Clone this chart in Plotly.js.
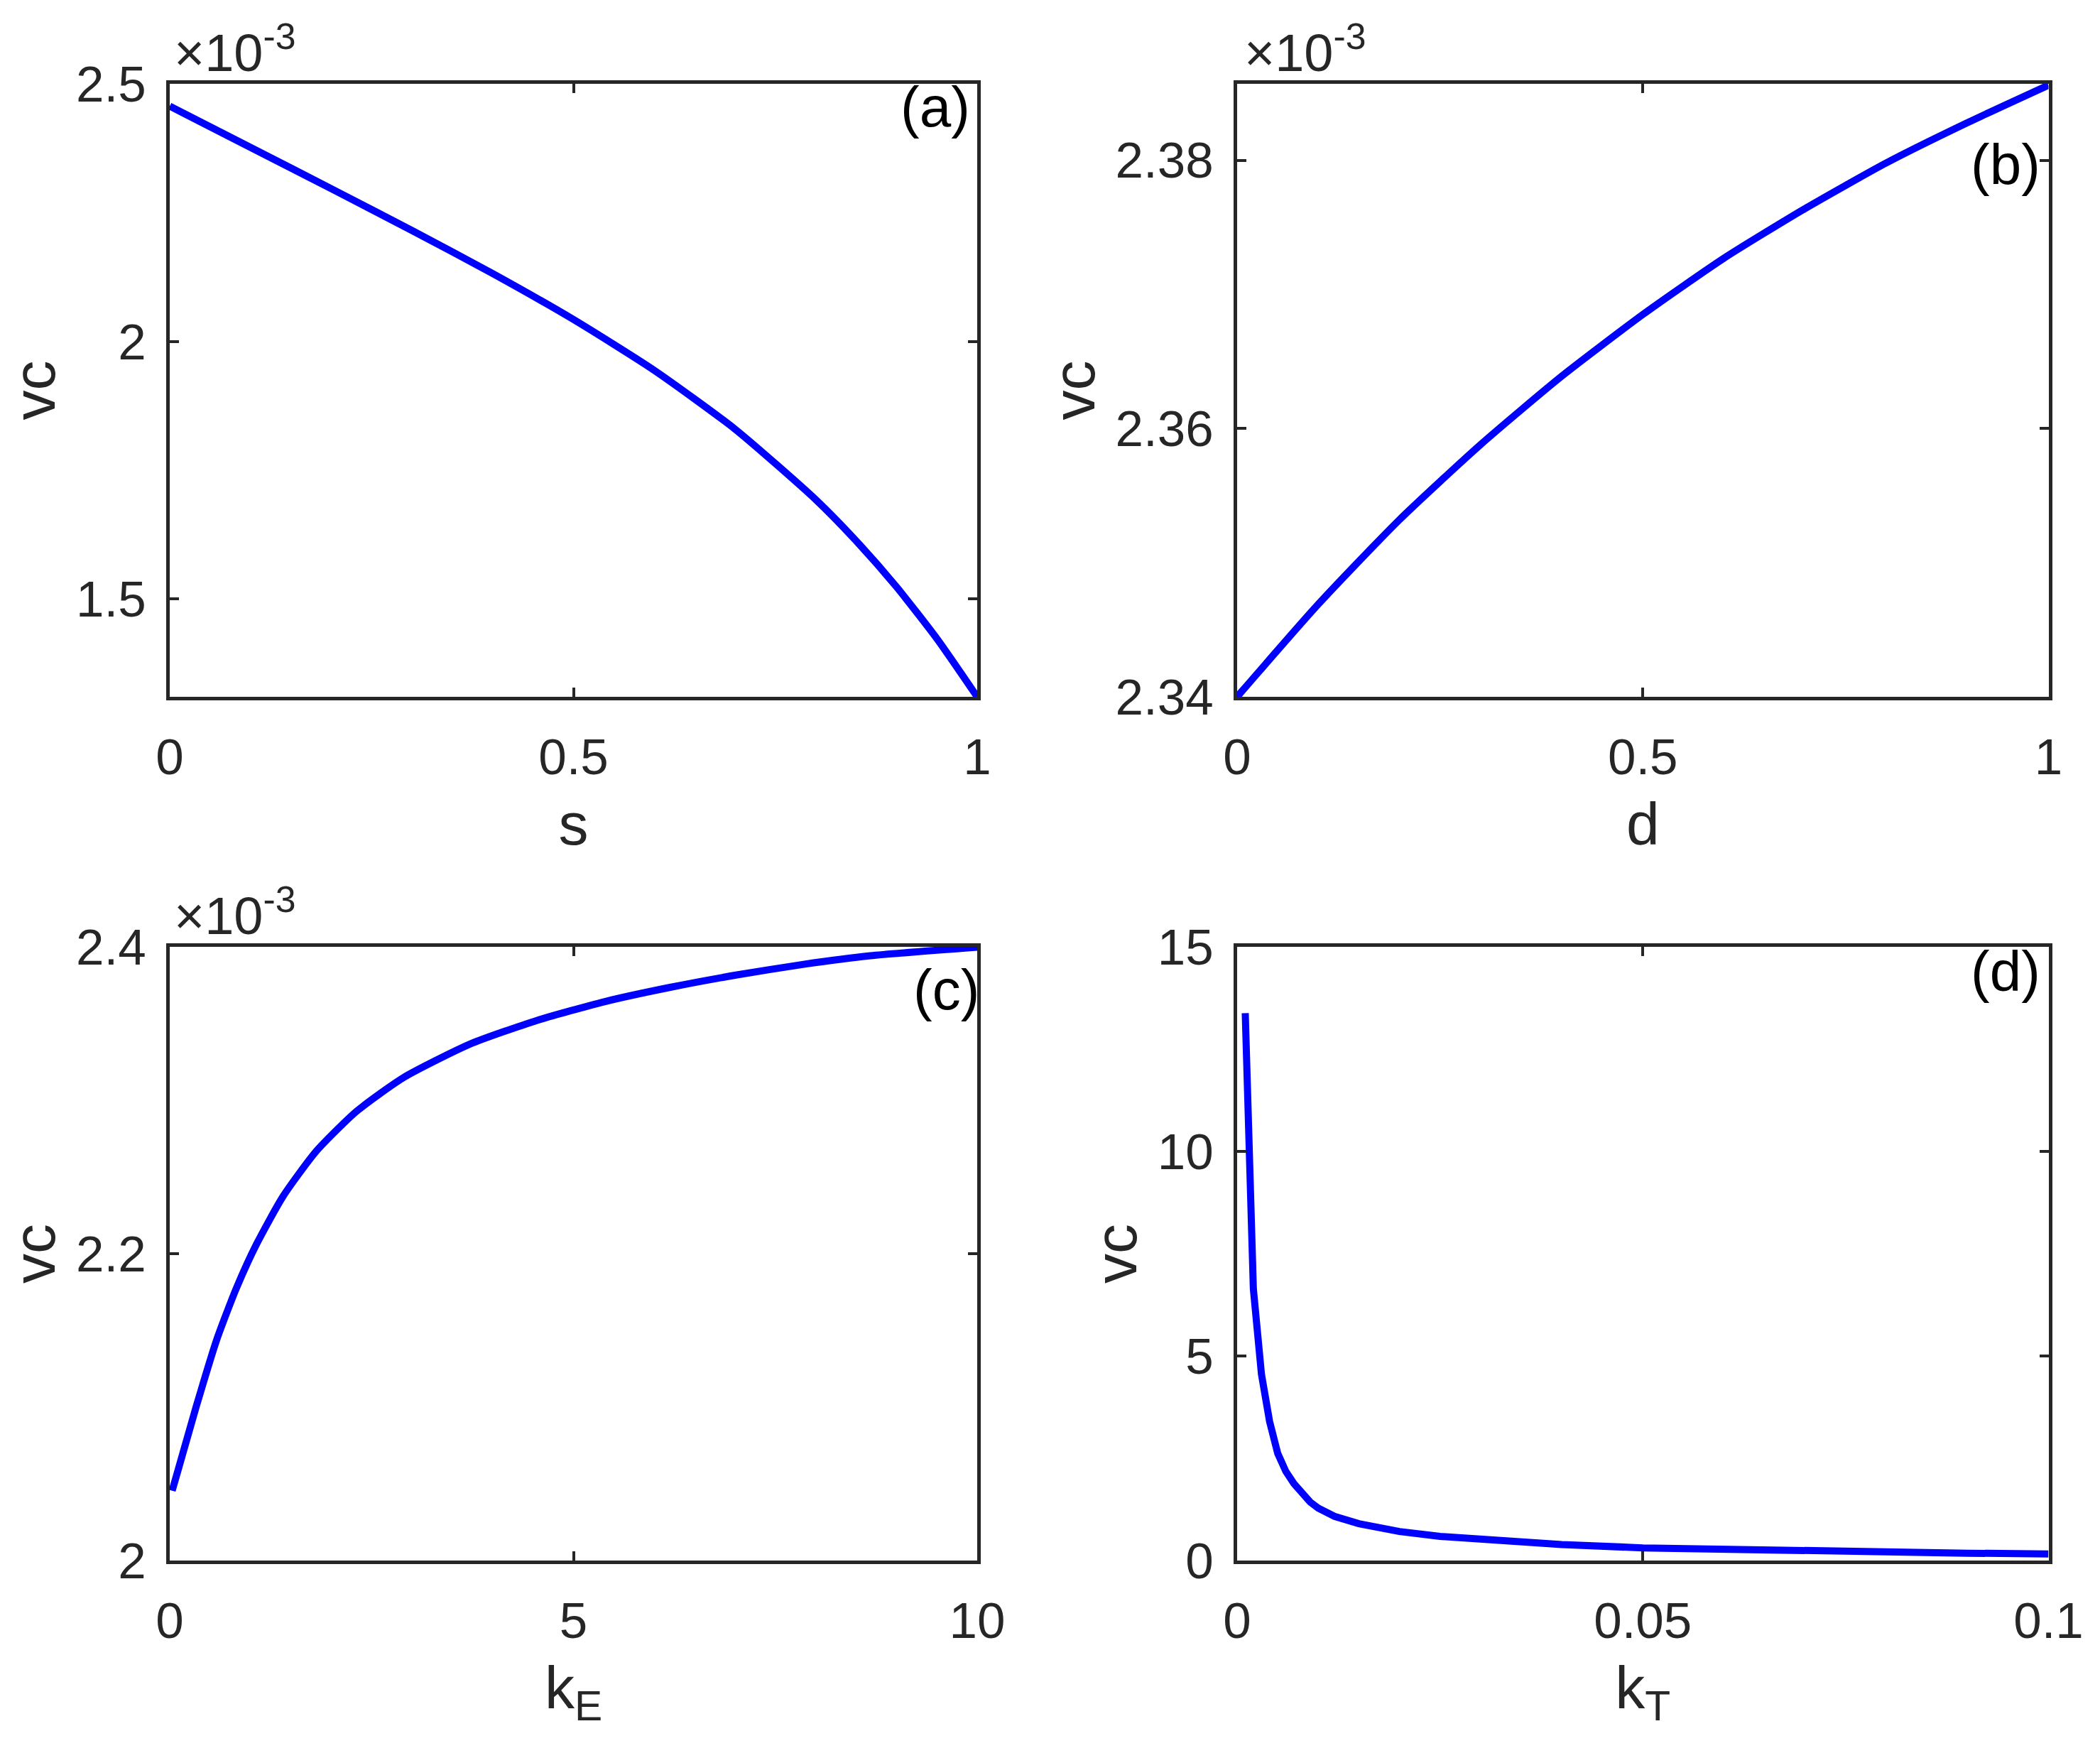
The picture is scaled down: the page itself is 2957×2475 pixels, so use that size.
<!DOCTYPE html>
<html>
<head>
<meta charset="utf-8">
<script src="https://cdn.plot.ly/plotly-3.0.1.min.js"></script>
<style>html,body{margin:0;padding:0;background:#fff;}#chart{width:2957px;height:2475px;}</style>
</head>
<body>
<div id="chart"></div>
<script>
// ---------- data (vc values of panels a-c are in units of 10^-3) ----------
const s_vals  = [0, 0.1, 0.2, 0.3, 0.4, 0.5, 0.6, 0.7, 0.8, 0.85, 0.9, 0.95, 1.0];
const vc_a    = [2.4567, 2.3767, 2.2965, 2.2154, 2.1317, 2.0426, 1.9440, 1.8300, 1.6932, 1.6132, 1.5239, 1.4235, 1.3104];

const d_vals  = [0, 0.1, 0.2, 0.3, 0.4, 0.5, 0.6, 0.7, 0.8, 0.9, 1.0];
const vc_b    = [2.3400, 2.3469, 2.3532, 2.3588, 2.3639, 2.3685, 2.3727, 2.3764, 2.3798, 2.3828, 2.3856];

const kE_vals = [0.03, 0.33, 0.579, 0.826, 1.074, 1.405, 1.818, 2.314, 2.893, 3.719, 4.545, 5.372, 6.198, 7.025, 7.851, 8.678, 10];
const vc_c    = [2.0455, 2.1007, 2.1435, 2.1776, 2.2061, 2.2375, 2.2670, 2.2928, 2.3147, 2.3366, 2.3520, 2.3641, 2.3736, 2.3817, 2.3886, 2.3942, 2.3998];

const kT_vals = [0.001, 0.002, 0.003, 0.004, 0.005, 0.006, 0.007, 0.008, 0.009, 0.010, 0.012, 0.015, 0.020, 0.025, 0.030, 0.040, 0.050, 0.060, 0.070, 0.080, 0.090, 0.100];
const vc_d    = [13.38, 6.64, 4.55, 3.40, 2.62, 2.18, 1.88, 1.62, 1.43, 1.28, 1.08, 0.90, 0.71, 0.59, 0.51, 0.39, 0.31, 0.27, 0.23, 0.20, 0.18, 0.16];

// tick labels
const xt_a = [0, 0.5, 1],        xt_a_txt = ['0', '0.5', '1'];
const yt_a = [1.5, 2, 2.5],      yt_a_txt = ['1.5', '2', '2.5'];
const xt_b = [0, 0.5, 1],        xt_b_txt = ['0', '0.5', '1'];
const yt_b = [2.34, 2.36, 2.38], yt_b_txt = ['2.34', '2.36', '2.38'];
const xt_c = [0, 5, 10],         xt_c_txt = ['0', '5', '10'];
const yt_c = [2, 2.2, 2.4],      yt_c_txt = ['2', '2.2', '2.4'];
const xt_d = [0, 0.05, 0.1],     xt_d_txt = ['0', '0.05', '0.1'];
const yt_d = [0, 5, 10, 15],     yt_d_txt = ['0', '5', '10', '15'];

const panelLabels = ['(a)', '(b)', '(c)', '(d)'];
const xLabels = ['s', 'd', 'k<sub>E</sub>', 'k<sub>T</sub>'];
const yLabel = 'vc';
const expLabel = '×10<sup>-3</sup>';

// ---------- layout helpers ----------
const W = 2957, H = 2475;
const px = x => x / W;
const py = y => 1 - y / H;
const FONT = 'Liberation Sans, Arial, Helvetica, sans-serif';
const AX = '#262626';
const TICK_SIZE = 71, LABEL_SIZE = 84, PANEL_SIZE = 80, EXP_SIZE = 74;

const colL = [239, 1376], colR = [1742, 2884.5];
const rowT = [118, 981], rowB = [1333, 2197];

function common() {
  return {ticks: 'inside', ticklen: 13, tickwidth: 4, tickcolor: AX,
    showline: true, linewidth: 5, linecolor: AX, mirror: 'ticks',
    showgrid: false, zeroline: false, fixedrange: true, automargin: true,
    tickfont: {family: FONT, size: TICK_SIZE, color: AX}};
}
function xax(dom, range, tv, tt, title) {
  return Object.assign(common(), {domain: [px(dom[0]), px(dom[1])], range: range, tickvals: tv, ticktext: tt,
    ticklabelstandoff: 19,
    title: {text: title, standoff: 27, font: {family: FONT, size: LABEL_SIZE, color: AX}}});
}
function yax(dom, range, tv, tt, title) {
  return Object.assign(common(), {domain: [py(dom[1]), py(dom[0])], range: range, tickvals: tv, ticktext: tt,
    ticklabelstandoff: 14,
    title: {text: title, standoff: 3, font: {family: FONT, size: LABEL_SIZE, color: AX}}});
}

const lineStyle = {color: '#0000ff', width: 10};
const traces = [
  {x: s_vals,  y: vc_a, xaxis: 'x',  yaxis: 'y',  mode: 'lines', line: Object.assign({shape: 'spline', smoothing: 0.6}, lineStyle)},
  {x: d_vals,  y: vc_b, xaxis: 'x2', yaxis: 'y2', mode: 'lines', line: Object.assign({shape: 'spline', smoothing: 0.6}, lineStyle)},
  {x: kE_vals, y: vc_c, xaxis: 'x3', yaxis: 'y3', mode: 'lines', line: Object.assign({shape: 'spline', smoothing: 0.6}, lineStyle)},
  {x: kT_vals, y: vc_d, xaxis: 'x4', yaxis: 'y4', mode: 'lines', line: Object.assign({shape: 'linear'}, lineStyle)}
];

const ann = [];
function txt(text, x, y, xa, ya, size, color) {
  ann.push({text: text, xref: 'paper', yref: 'paper', x: px(x), y: py(y), xanchor: xa, yanchor: ya,
    showarrow: false, font: {family: FONT, size: size, color: color || AX}});
}
// panel labels
txt(panelLabels[0], 1368, 151, 'right', 'middle', PANEL_SIZE, '#000');
txt(panelLabels[1], 2875, 231, 'right', 'middle', PANEL_SIZE, '#000');
txt(panelLabels[2], 1381, 1393, 'right', 'middle', PANEL_SIZE, '#000');
txt(panelLabels[3], 2875, 1367, 'right', 'middle', PANEL_SIZE, '#000');
// exponent labels
txt(expLabel, 243, 118, 'left', 'bottom', EXP_SIZE);
txt(expLabel, 1750, 118, 'left', 'bottom', EXP_SIZE);
txt(expLabel, 243, 1333, 'left', 'bottom', EXP_SIZE);

const layout = {
  width: W, height: H, margin: {l: 0, r: 0, t: 0, b: 0, autoexpand: false},
  paper_bgcolor: '#fff', plot_bgcolor: '#fff', showlegend: false,
  xaxis:  xax(colL, [0, 1], xt_a, xt_a_txt, xLabels[0]),   yaxis:  yax(rowT, [1.3104, 2.5], yt_a, yt_a_txt, yLabel),
  xaxis2: xax(colR, [0, 1], xt_b, xt_b_txt, xLabels[1]),   yaxis2: yax(rowT, [2.34, 2.3857], yt_b, yt_b_txt, yLabel),
  xaxis3: xax(colL, [0, 10], xt_c, xt_c_txt, xLabels[2]),  yaxis3: yax(rowB, [2, 2.4], yt_c, yt_c_txt, yLabel),
  xaxis4: xax(colR, [0, 0.1], xt_d, xt_d_txt, xLabels[3]), yaxis4: yax(rowB, [0, 15], yt_d, yt_d_txt, yLabel),
  annotations: ann
};
layout.xaxis.anchor = 'y';   layout.yaxis.anchor = 'x';
layout.xaxis2.anchor = 'y2'; layout.yaxis2.anchor = 'x2';
layout.xaxis3.anchor = 'y3'; layout.yaxis3.anchor = 'x3';
layout.xaxis4.anchor = 'y4'; layout.yaxis4.anchor = 'x4';

Plotly.newPlot('chart', traces, layout, {displayModeBar: false, staticPlot: true});
</script>
</body>
</html>
